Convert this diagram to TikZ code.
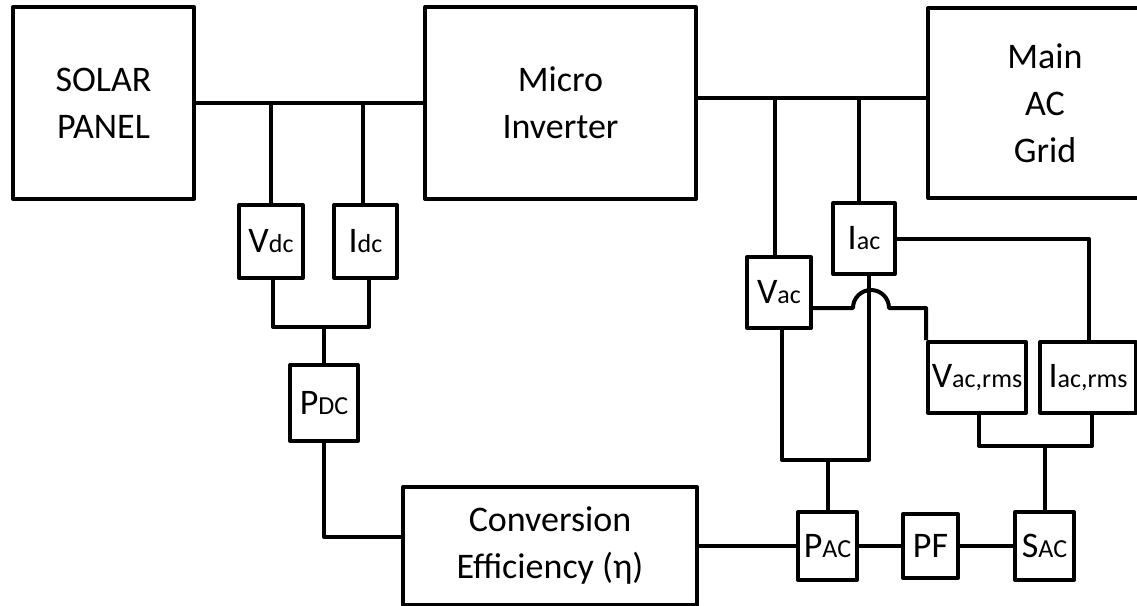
\documentclass[tikz,border=0pt]{standalone}
\usepackage{fontspec}
\setmainfont{Carlito}
\usetikzlibrary{calc}
\newcommand\sbs[1]{{\fontsize{13}{13}\selectfont #1}}
\begin{document}
\begin{tikzpicture}[x=0.5pt,y=-0.5pt,
  line width=2pt, line join=round,
  blk/.style={draw, line width=2pt, inner sep=0pt, align=center,
    font=\fontsize{18}{23.5}\selectfont},
  wire/.style={line width=2pt}]
\useasboundingbox (0,0) rectangle (1137,606);
% main blocks
\node[blk, minimum width=90.5pt, minimum height=96pt] (solar) at (103.5,103) {SOLAR\\PANEL};
\node[blk, minimum width=135.5pt, minimum height=96pt] (micro) at (560.5,103) {Micro\\Inverter};
\node[blk, minimum width=117pt, minimum height=95pt] (grid) at (1045,103) {Main\\AC\\Grid};
\node[blk, minimum width=147pt, minimum height=59pt] (conv) at (550,546) {Conversion\\Efficiency (η)};
% DC measurement
\node[blk, minimum width=32pt, minimum height=36.5pt] (vdc) at (271,241.5) {V\sbs{dc}};
\node[blk, minimum width=31.5pt, minimum height=36.5pt] (idc) at (365.5,241.5) {I\sbs{dc}};
\node[blk, minimum width=34pt, minimum height=38pt] (pdc) at (324,403) {P\sbs{DC}};
% AC measurement
\node[blk, minimum width=32pt, minimum height=35.5pt] (vac) at (779,292.5) {V\sbs{ac}};
\node[blk, minimum width=31pt, minimum height=35.5pt] (iac) at (864,238.5) {I\sbs{ac}};
\node[blk, minimum width=49pt, minimum height=35.5pt] (vrms) at (977,377.5) {V\sbs{ac,rms}};
\node[blk, minimum width=48pt, minimum height=35.5pt] (irms) at (1088,377.5) {I\sbs{ac,rms}};
\node[blk, minimum width=29.5pt, minimum height=34pt] (pac) at (827.5,546) {P\sbs{AC}};
\node[blk, minimum width=27.5pt, minimum height=32pt] (pf) at (930.5,546) {PF};
\node[blk, minimum width=29.5pt, minimum height=34pt] (sac) at (1044.5,546) {S\sbs{AC}};
% junction coordinates
\coordinate (acL) at (696,98);
\coordinate (jdc) at (324,327);
\coordinate (jac) at (827.5,460);
\coordinate (jrms) at (1044.5,446);
% DC side
\draw[wire] (solar.east) -- (micro.west);
\draw[wire] (vdc.north) -- (vdc.north |- solar.east);
\draw[wire] ($(idc.north)+(-2.5,0)$) -- ($(idc.north |- solar.east)+(-2.5,0)$);
\draw[wire] ($(vdc.south)+(2,0)$) |- (jdc) -| ($(idc.south)+(3.5,0)$);
\draw[wire] (jdc) -- (pdc.north);
\draw[wire] (pdc.south) |- ($(conv.west)+(0,-9)$);
% AC bus
\draw[wire] (acL) -- (acL -| grid.west);
\draw[wire] ($(vac.north)+(-4,0)$) -- ($(vac.north |- acL)+(-4,0)$);
\draw[wire] ($(iac.north)+(-5,0)$) -- ($(iac.north |- acL)+(-5,0)$);
% AC measurement wiring
\draw[wire] (iac.east) -| ($(irms.north)+(1,0)$);
\draw[wire] ($(vac.east)+(0,15.5)$) -- ++(40,0) arc[start angle=180,end angle=0,radius=9pt] -| (vrms.north west);
\draw[wire] ($(vac.south)+(3,0)$) |- (jac) -| ($(iac.south)+(5,0)$);
\draw[wire] (jac) -- (pac.north);
\draw[wire] ($(vrms.south)+(2,0)$) |- (jrms) -| ($(irms.south)+(4,0)$);
\draw[wire] (jrms) -- (sac.north);
% bottom chain
\draw[wire] (conv.east) -- (pac.west);
\draw[wire] (pac.east) -- (pf.west);
\draw[wire] (pf.east) -- (sac.west);
\end{tikzpicture}
\end{document}
